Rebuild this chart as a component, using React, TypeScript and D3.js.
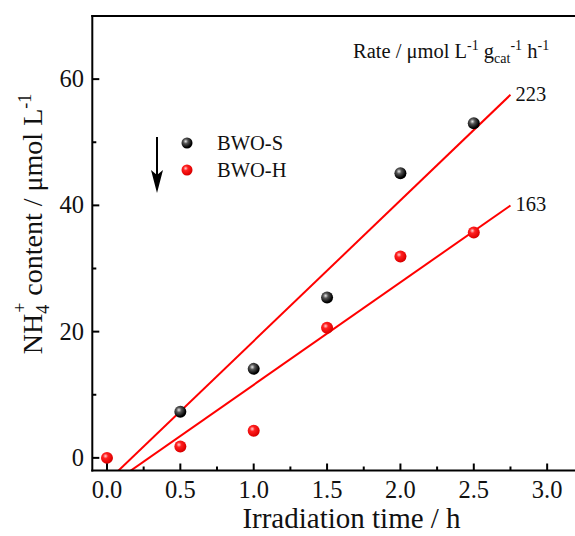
import React from "react";
import * as d3 from "d3";

const timesS = [0.5, 1.0, 1.5, 2.0, 2.5];
const valuesS = [7.3, 14.1, 25.4, 45.1, 53.0];
const timesH = [0.0, 0.5, 1.0, 1.5, 2.0, 2.5];
const valuesH = [0.0, 1.8, 4.3, 20.6, 31.9, 35.7];
const seriesNames = ["BWO-S", "BWO-H"];
const fitSlopes = [22.28, 16.23];
const fitIntercepts = [-3.76, -4.65];
const fitEnd = 2.75;
const rateLabels = ["223", "163"];
const xTicks = [0, 0.5, 1.0, 1.5, 2.0, 2.5, 3.0];
const xMinor = [0.25, 0.75, 1.25, 1.75, 2.25, 2.75];
const yTicks = [0, 20, 40, 60];
const yMinor = [10, 30, 50];

const W = 575;
const H = 536;
const FONT = "'Liberation Serif', 'Times New Roman', serif";

export default function App() {
  const x = d3.scaleLinear().domain([-0.1, 3.2]).range([92.3, 576.5]);
  const y = d3.scaleLinear().domain([-2, 70]).range([470.5, 16]);

  const fitPath = (k: number) => {
    const t0 = (-2.5 - fitIntercepts[k]) / fitSlopes[k];
    const pts: [number, number][] = [t0, fitEnd].map((t) => [
      x(t),
      y(fitSlopes[k] * t + fitIntercepts[k]),
    ]);
    return d3.line()(pts) as string;
  };

  const left = x(-0.1);
  const bottom = y(-2);
  const top = y(70);
  const right = x(3.2);

  return (
    <svg
      width={W}
      height={H}
      style={{ position: "absolute", left: 0, top: 0, background: "#fff" }}
      fontFamily={FONT}
    >
      <defs>
        <radialGradient id="gBlack" cx="0.38" cy="0.35" r="0.7">
          <stop offset="0" stopColor="#e8e8e8" />
          <stop offset="0.3" stopColor="#555" />
          <stop offset="0.8" stopColor="#000" />
          <stop offset="1" stopColor="#000" />
        </radialGradient>
        <radialGradient id="gRed" cx="0.38" cy="0.35" r="0.7">
          <stop offset="0" stopColor="#ffd0d0" />
          <stop offset="0.3" stopColor="#ff2020" />
          <stop offset="0.85" stopColor="#e00000" />
          <stop offset="1" stopColor="#c00000" />
        </radialGradient>
        <clipPath id="plotClip">
          <rect x={left} y={top} width={right - left} height={bottom - top} />
        </clipPath>
      </defs>

      {/* fit lines */}
      <g clipPath="url(#plotClip)">
        {[0, 1].map((k) => (
          <path key={k} d={fitPath(k)} stroke="#ff0000" strokeWidth={2} fill="none" />
        ))}
      </g>

      {/* data points */}
      {timesH.map((t, i) => (
        <circle key={"h" + i} cx={x(t)} cy={y(valuesH[i])} r={6} fill="url(#gRed)" />
      ))}
      {timesS.map((t, i) => (
        <circle key={"s" + i} cx={x(t)} cy={y(valuesS[i])} r={6} fill="url(#gBlack)" />
      ))}

      {/* frame */}
      <line x1={left} x2={left} y1={top - 1} y2={bottom + 1} stroke="#000" strokeWidth={2} />
      <line x1={left - 1} x2={W} y1={bottom} y2={bottom} stroke="#000" strokeWidth={2} />
      <line x1={left - 1} x2={W} y1={top} y2={top} stroke="#000" strokeWidth={2} />

      {/* x ticks */}
      {xTicks.map((t) => (
        <g key={"xt" + t}>
          <line x1={x(t)} x2={x(t)} y1={bottom} y2={bottom - 7} stroke="#000" strokeWidth={2} />
          <text x={x(t)} y={498} textAnchor="middle" fontSize={24.5} fill="#111">
            {t.toFixed(1)}
          </text>
        </g>
      ))}
      {xMinor.map((t) => (
        <line key={"xm" + t} x1={x(t)} x2={x(t)} y1={bottom} y2={bottom - 4} stroke="#000" strokeWidth={2} />
      ))}

      {/* y ticks */}
      {yTicks.map((v) => (
        <g key={"yt" + v}>
          <line x1={left} x2={left + 7} y1={y(v)} y2={y(v)} stroke="#000" strokeWidth={2} />
          <text x={84} y={y(v) + 8} textAnchor="end" fontSize={24.5} fill="#111">
            {v}
          </text>
        </g>
      ))}
      {yMinor.map((v) => (
        <line key={"ym" + v} x1={left} x2={left + 4} y1={y(v)} y2={y(v)} stroke="#000" strokeWidth={2} />
      ))}

      {/* axis titles */}
      <text x={351.5} y={528} textAnchor="middle" fontSize={29} fill="#111">
        Irradiation time / h
      </text>
      <text
        transform={`translate(42, 224) rotate(-90)`}
        textAnchor="middle"
        fontSize={28}
        fill="#111"
      >
        NH
        <tspan fontSize={18} dy={7}>4</tspan>
        <tspan fontSize={18} dx={-8} dy={-23}>+</tspan>
        <tspan dy={16}> content / μmol L</tspan>
        <tspan fontSize={18} dy={-11}>-1</tspan>
      </text>

      {/* rate header */}
      <text x={353} y={58} fontSize={20.5} fill="#111">
        Rate / μmol L
        <tspan fontSize={14} dy={-8}>-1</tspan>
        <tspan dy={8}> g</tspan>
        <tspan fontSize={14} dy={5}>cat</tspan>
        <tspan fontSize={14} dy={-13}>-1</tspan>
        <tspan dy={8}> h</tspan>
        <tspan fontSize={14} dy={-8}>-1</tspan>
      </text>

      {/* rate labels */}
      {[0, 1].map((k) => (
        <text
          key={"rl" + k}
          x={x(fitEnd) + 5}
          y={y(fitSlopes[k] * fitEnd + fitIntercepts[k]) + 6}
          fontSize={20.5}
          fill="#111"
        >
          {rateLabels[k]}
        </text>
      ))}

      {/* legend */}
      <line x1={157} x2={157} y1={137} y2={180} stroke="#000" strokeWidth={2} />
      <path d="M151,170 L157,193 L163,170 L157,175 Z" fill="#000" />
      <circle cx={187} cy={143} r={5.5} fill="url(#gBlack)" />
      <circle cx={187} cy={170} r={5.5} fill="url(#gRed)" />
      <text x={217} y={150} fontSize={20.5} fill="#111">{seriesNames[0]}</text>
      <text x={217} y={177} fontSize={20.5} fill="#111">{seriesNames[1]}</text>
    </svg>
  );
}
